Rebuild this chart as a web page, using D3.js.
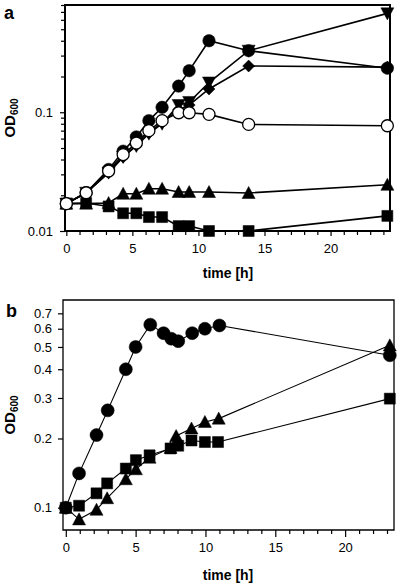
<!DOCTYPE html>
<html><head><meta charset="utf-8">
<script src="https://cdn.jsdelivr.net/npm/d3@7"></script>
<style>body{margin:0;background:#fff}svg{display:block}text{font-family:"Liberation Sans",Arial,Helvetica,sans-serif}</style>
</head><body>
<script>
// ---------- Panel a data ----------
const aTimes = [0, 1.5, 3.2, 4.3, 5.3, 6.25, 7.25, 8.5, 9.3, 10.8, 13.8, 24.3];
const aFilledCircle = [0.017, 0.021, 0.033, 0.047, 0.062, 0.085, 0.11, 0.166, 0.224, 0.40, 0.33, 0.235];
const aOpenCircle   = [0.017, 0.021, 0.032, 0.044, 0.055, 0.070, 0.085, 0.099, 0.099, 0.096, 0.079, 0.077];
const aTriDown      = [0.017, 0.021, 0.031, 0.042, 0.052, 0.066, 0.080, 0.115, 0.122, 0.178, 0.33, 0.68];
const aDiamond      = [0.017, 0.021, 0.031, 0.042, 0.053, 0.067, 0.082, 0.105, 0.115, 0.157, 0.245, 0.24];
const aTriUp        = [0.017, 0.017, 0.0172, 0.0206, 0.0206, 0.0227, 0.0227, 0.0213, 0.0213, 0.0213, 0.0209, 0.0245];
const aSquare       = [0.017, 0.0172, 0.0161, 0.0141, 0.0141, 0.0131, 0.0131, 0.011, 0.011, 0.0100, 0.0100, 0.0134];
const aXTicks = [0, 5, 10, 15, 20];
const aYTicks = [0.01, 0.1];

// ---------- Panel b data ----------
const bCircleT = [0, 0.95, 2.2, 3.0, 4.3, 5.0, 6.05, 7.0, 7.55, 8.05, 9.05, 9.96, 11.0, 23.2];
const bCircleV = [0.1, 0.141, 0.207, 0.265, 0.40, 0.50, 0.625, 0.574, 0.543, 0.530, 0.574, 0.60, 0.62, 0.46];
const bSquareT = [0, 0.95, 2.2, 2.96, 4.3, 5.02, 6.0, 7.5, 8.05, 9.0, 9.96, 10.9, 23.2];
const bSquareV = [0.1, 0.102, 0.1155, 0.1276, 0.148, 0.161, 0.169, 0.181, 0.186, 0.196, 0.193, 0.193, 0.298];
const bTriT = [0, 0.95, 2.2, 2.96, 4.3, 5.02, 6.0, 7.5, 7.9, 9.0, 9.96, 10.95, 23.2];
const bTriV = [0.1, 0.089, 0.098, 0.110, 0.133, 0.147, 0.165, 0.182, 0.205, 0.221, 0.236, 0.244, 0.508];
const bXTicks = [0, 5, 10, 15, 20];
const bYTicks = [0.1, 0.2, 0.3, 0.4, 0.5, 0.6, 0.7];

const svg = d3.select("body").append("svg").attr("width", 400).attr("height", 584);

function shape(kind, s) {
  const h = s / 2;
  switch (kind) {
    case "square": return `M${-h},${-h}H${h}V${h}H${-h}Z`;
    case "triUp": return `M0,${-h}L${h},${h * 0.85}L${-h},${h * 0.85}Z`;
    case "triDown": return `M0,${h}L${h},${-h * 0.85}L${-h},${-h * 0.85}Z`;
    case "diamond": return `M0,${-h}L${h},0L0,${h}L${-h},0Z`;
    default: return d3.arc()({innerRadius: 0, outerRadius: h, startAngle: 0, endAngle: 2 * Math.PI});
  }
}

function drawSeries(g, x, y, ts, vs, kind, size, fill, lw) {
  const pts = ts.map((t, i) => [t, vs[i]]);
  g.append("path").datum(pts)
    .attr("d", d3.line().x(d => x(d[0])).y(d => y(d[1])))
    .attr("fill", "none").attr("stroke", "#000").attr("stroke-width", lw);
  g.selectAll(null).data(pts).enter().append("path")
    .attr("transform", d => `translate(${x(d[0])},${y(d[1])})`)
    .attr("d", shape(kind, size))
    .attr("fill", fill).attr("stroke", "#000").attr("stroke-width", kind === "open" ? 1.3 : 0.5);
}

function panel(opt) {
  const g = svg.append("g");
  const x = d3.scaleLinear().domain(opt.xDomain).range([opt.left, opt.right]);
  const y = d3.scaleLog().domain(opt.yDomain).range([opt.bottom, opt.top]);
  // frame
  g.append("path")
    .attr("d", `M${opt.left},${opt.bottom}V${opt.top}H${opt.right}V${opt.bottom}Z`)
    .attr("fill", "none").attr("stroke", "#000").attr("stroke-width", opt.frameW);
  // x minor ticks
  const minorX = d3.range(0, Math.floor(opt.xDomain[1]) + 1).filter(t => !opt.xTicks.includes(t));
  g.append("g").attr("transform", `translate(0,${opt.bottom})`)
    .call(d3.axisBottom(x).tickValues(minorX).tickSize(4).tickFormat(""))
    .call(a => a.select(".domain").remove())
    .call(a => a.selectAll("line").attr("stroke-width", 1.2));
  g.append("g").attr("transform", `translate(0,${opt.bottom})`)
    .call(d3.axisBottom(x).tickValues(opt.xTicks).tickSize(opt.majorX).tickPadding(opt.xPad).tickFormat(d3.format("d")))
    .call(a => a.select(".domain").remove())
    .call(a => a.selectAll("line").attr("stroke-width", 1.2))
    .call(a => a.selectAll("text").attr("font-size", 13).attr("fill", "#000")
      .attr("font-family", "'Liberation Sans',Arial,sans-serif"));
  // y ticks
  if (opt.yMinor) {
    g.append("g").attr("transform", `translate(${opt.left},0)`)
      .call(d3.axisLeft(y).tickValues(opt.yMinor).tickSize(4).tickFormat(""))
      .call(a => a.select(".domain").remove())
      .call(a => a.selectAll("line").attr("stroke-width", 1.2));
  }
  g.append("g").attr("transform", `translate(${opt.left},0)`)
    .call(d3.axisLeft(y).tickValues(opt.yTicks).tickSize(opt.majorY).tickPadding(opt.yPad).tickFormat(d => String(d)))
    .call(a => a.select(".domain").remove())
    .call(a => a.selectAll("line").attr("stroke-width", 1.2))
    .call(a => a.selectAll("text").attr("font-size", 13).attr("fill", "#000")
      .attr("font-family", "'Liberation Sans',Arial,sans-serif"));
  // labels
  g.append("text").attr("x", opt.letterX).attr("y", opt.letterY).attr("font-size", 18)
    .attr("font-weight", "bold").text(opt.letter);
  const yl = g.append("text").attr("transform", `translate(${opt.yLabX},${opt.yLabY}) rotate(-90)`)
    .attr("text-anchor", "middle").attr("font-weight", "bold").attr("font-size", 15);
  yl.append("tspan").text("OD");
  yl.append("tspan").attr("font-size", 10).attr("dy", 3).text("600");
  g.append("text").attr("x", opt.xLabX).attr("y", opt.xLabY).attr("text-anchor", "middle")
    .attr("font-weight", "bold").attr("font-size", 14).text("time [h]");
  return {g, x, y};
}

// ---------- Panel a ----------
const A = panel({
  xDomain: [-0.1, 24.5], yDomain: [0.01, 0.8],
  left: 65, right: 390, top: 5, bottom: 231, frameW: 2,
  xTicks: aXTicks, yTicks: aYTicks, majorX: 5, xPad: 8, majorY: 5, yPad: 7,
  yMinor: [0.02, 0.03, 0.04, 0.05, 0.06, 0.07, 0.08, 0.09, 0.2, 0.3, 0.4, 0.5, 0.6, 0.7, 0.8],
  letter: "a", letterX: 4, letterY: 19, yLabX: 15, yLabY: 118, xLabX: 228, xLabY: 278
});
drawSeries(A.g, A.x, A.y, aTimes, aTriUp, "triUp", 13, "#000", 1.6);
drawSeries(A.g, A.x, A.y, aTimes, aSquare, "square", 11, "#000", 1.6);
drawSeries(A.g, A.x, A.y, aTimes, aTriDown, "triDown", 13, "#000", 1.6);
drawSeries(A.g, A.x, A.y, aTimes, aDiamond, "diamond", 12, "#000", 1.6);
drawSeries(A.g, A.x, A.y, aTimes, aFilledCircle, "circle", 12.5, "#000", 1.6);
drawSeries(A.g, A.x, A.y, aTimes, aOpenCircle, "open", 12, "#fff", 1.6);

// ---------- Panel b ----------
const B = panel({
  xDomain: [-0.2, 23.5], yDomain: [0.08, 0.8],
  left: 63, right: 394, top: 300, bottom: 530, frameW: 1.3,
  xTicks: bXTicks, yTicks: bYTicks, majorX: 7, xPad: 6, majorY: 5, yPad: 6,
  yMinor: null,
  letter: "b", letterX: 6, letterY: 317, yLabX: 15, yLabY: 415, xLabX: 228, xLabY: 580
});
drawSeries(B.g, B.x, B.y, bTriT, bTriV, "triUp", 13, "#000", 1.1);
drawSeries(B.g, B.x, B.y, bSquareT, bSquareV, "square", 11, "#000", 1.1);
drawSeries(B.g, B.x, B.y, bCircleT, bCircleV, "circle", 13, "#000", 1.1);
</script>
</body></html>
